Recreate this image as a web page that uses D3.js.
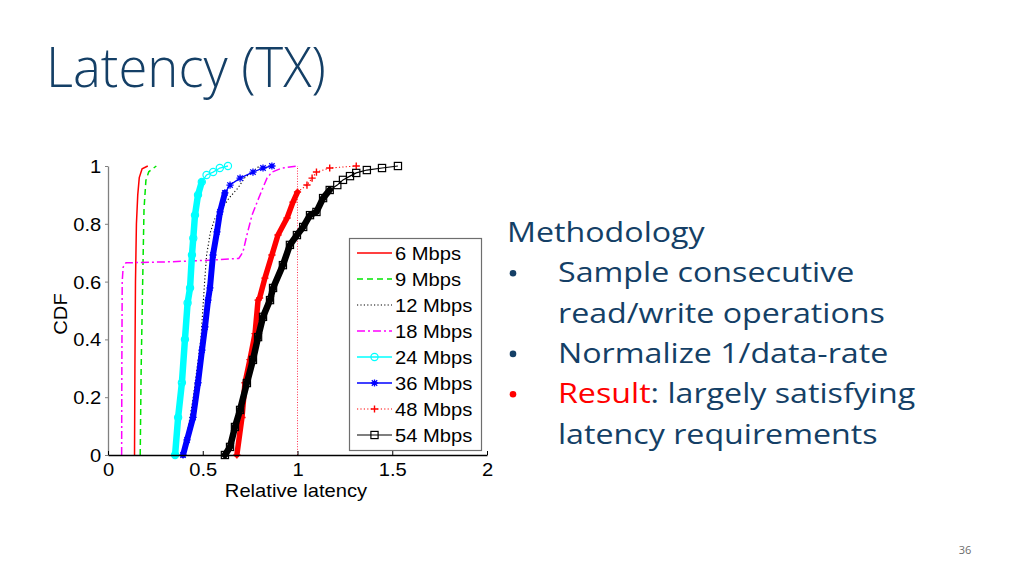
<!DOCTYPE html>
<html><head><meta charset="utf-8">
<script src="https://cdn.jsdelivr.net/npm/d3@7"></script>
<style>
html,body{margin:0;padding:0;background:#fff;}
svg{display:block;}
</style></head>
<body>
<svg id="c" width="1024" height="576"></svg>
<script>
// ---------- data ----------
const titleText = "Latency (TX)";
const xLabel = "Relative latency";
const yLabel = "CDF";
const xTicks = [0, 0.5, 1, 1.5, 2];
const yTicks = [0, 0.2, 0.4, 0.6, 0.8, 1];
const xTickLabels = ["0", "0.5", "1", "1.5", "2"];
const yTickLabels = ["0", "0.2", "0.4", "0.6", "0.8", "1"];
const seriesNames = ["6 Mbps", "9 Mbps", "12 Mbps", "18 Mbps", "24 Mbps", "36 Mbps", "48 Mbps", "54 Mbps"];

// [relative latency, CDF]
const cdf6 = [[0.14,0],[0.142,0.3],[0.145,0.6],[0.15,0.8],[0.157,0.9],[0.165,0.96],[0.18,0.99],[0.21,1]];
const cdf9 = [[0.17,0],[0.175,0.3],[0.183,0.6],[0.19,0.85],[0.2,0.95],[0.215,0.98],[0.255,1]];
const cdf12 = [[0.40,0],[0.45,0.2],[0.49,0.4],[0.51,0.6],[0.52,0.69],[0.54,0.77],[0.565,0.82],[0.64,0.89],[0.686,0.924],[0.72,0.958],[0.76,0.98],[0.80,1.0]];
const cdf18 = [[0.072,0],[0.073,0.3],[0.075,0.6],[0.08,0.65],[0.095,0.665],[0.3,0.668],[0.5,0.673],[0.69,0.68],[0.712,0.702],[0.733,0.761],[0.76,0.83],[0.802,0.9],[0.839,0.958],[0.865,0.979],[0.918,0.993],[1.0,1.0]];
const cdf24 = [[0.354,0],[0.37,0.13],[0.39,0.25],[0.406,0.40],[0.42,0.526],[0.433,0.578],[0.443,0.692],[0.45,0.75],[0.459,0.83],[0.475,0.90],[0.495,0.945],[0.52,0.969],[0.555,0.979],[0.59,0.993],[0.633,1.0]];
const cdf36 = [[0.396,0],[0.417,0.052],[0.449,0.13],[0.475,0.25],[0.496,0.363],[0.512,0.443],[0.528,0.536],[0.538,0.578],[0.554,0.692],[0.575,0.772],[0.591,0.841],[0.617,0.907],[0.644,0.934],[0.697,0.958],[0.765,0.979],[0.818,0.993],[0.865,1.0]];
const cdf48 = [[0.68,0],[0.707,0.13],[0.723,0.25],[0.749,0.33],[0.776,0.42],[0.792,0.536],[0.80,0.543],[0.828,0.612],[0.865,0.692],[0.897,0.761],[0.945,0.82],[0.976,0.875],[1.0,0.91],[1.05,0.934],[1.077,0.958],[1.10,0.979],[1.17,0.993],[1.31,1.0]];
const cdf54 = [[0.617,0],[0.644,0.028],[0.67,0.097],[0.697,0.156],[0.733,0.249],[0.765,0.329],[0.792,0.408],[0.818,0.478],[0.855,0.536],[0.871,0.578],[0.923,0.657],[0.96,0.727],[0.997,0.761],[1.03,0.789],[1.066,0.83],[1.10,0.841],[1.135,0.889],[1.17,0.917],[1.21,0.934],[1.24,0.952],[1.277,0.965],[1.31,0.976],[1.366,0.986],[1.446,0.993],[1.53,1.0]];
const refLineX = [1];

const bodyLines = [
  {bullet:false, parts:[{t:"Methodology"}]},
  {bullet:true, parts:[{t:"Sample consecutive"}]},
  {bullet:false, indent:true, parts:[{t:"read/write operations"}]},
  {bullet:true, parts:[{t:"Normalize 1/data-rate"}]},
  {bullet:true, red:true, parts:[{t:"Result", red:true},{t:": largely satisfying"}]},
  {bullet:false, indent:true, parts:[{t:"latency requirements"}]}
];
const pageNumber = "36";

// ---------- styles ----------
const seriesData = [cdf6, cdf9, cdf12, cdf18, cdf24, cdf36, cdf48, cdf54];
const styles = [
  {color:"#ff0000", dash:null, w:1.5, marker:null},
  {color:"#00e600", dash:"6,4", w:1.5, marker:null},
  {color:"#000000", dash:"1.2,2.2", w:1.1, marker:null},
  {color:"#ff00ff", dash:"8,3,2,3", w:1.5, marker:null},
  {color:"#00ffff", dash:null, w:1.3, marker:"circle", band:6.5, bandMax:0.95},
  {color:"#0000ff", dash:null, w:1.3, marker:"star", band:6, bandMax:0.93},
  {color:"#ff0000", dash:"1.2,2.2", w:1.1, marker:"plus", band:5.5, bandMax:0.93},
  {color:"#000000", dash:null, w:1.2, marker:"square", band:6.5, bandMax:0.93}
];

const svg = d3.select("#c");
const navy = "#143f66";
const chartFont = "'Liberation Sans', Arial, sans-serif";
const SX = 1.12;

// title
svg.append("text").attr("transform", "translate(46,87) scale(0.94,1)")
  .attr("font-family", "'Open Sans', 'Noto Sans', sans-serif").attr("font-weight", 300)
  .attr("font-size", 56).attr("fill", navy).text(titleText);

// scales
const x = d3.scaleLinear().domain([0, 2]).range([108, 487]);
const y = d3.scaleLinear().domain([0, 1]).range([455, 166]);

const plot = svg.append("g");

// reference dotted line at x = 1
plot.selectAll(".ref").data(refLineX).enter().append("line")
  .attr("x1", d => x(d)).attr("x2", d => x(d)).attr("y1", y(0)).attr("y2", y(1))
  .attr("stroke", "#ff3050").attr("stroke-width", 1).attr("stroke-dasharray", "1,1.6");

const line = d3.line().x(d => x(d[0])).y(d => y(d[1]));

seriesData.forEach((data, i) => {
  const st = styles[i];
  const g = plot.append("g");
  if (st.band) {
    g.append("path").attr("d", line(data.filter(d => d[1] <= st.bandMax)))
      .attr("fill", "none").attr("stroke", st.color).attr("stroke-width", st.band)
      .attr("stroke-linejoin", "round").attr("stroke-linecap", "round");
  }
  g.append("path").attr("d", line(data)).attr("fill", "none")
    .attr("stroke", st.color).attr("stroke-width", st.w)
    .attr("stroke-dasharray", st.dash);
  if (st.marker) {
    data.forEach(d => drawMarker(g, st.marker, x(d[0]), y(d[1]), st.color));
  }
});

function drawMarker(g, type, cx, cy, color) {
  const s = 3.6;
  if (type === "circle") {
    g.append("circle").attr("cx", cx).attr("cy", cy).attr("r", s)
      .attr("fill", "none").attr("stroke", color).attr("stroke-width", 1.2);
  } else if (type === "square") {
    g.append("rect").attr("x", cx - s).attr("y", cy - s).attr("width", 2*s).attr("height", 2*s)
      .attr("fill", "none").attr("stroke", color).attr("stroke-width", 1.2);
  } else if (type === "plus") {
    g.append("path").attr("d", `M${cx-s},${cy}H${cx+s}M${cx},${cy-s}V${cy+s}`)
      .attr("stroke", color).attr("stroke-width", 1.4);
  } else if (type === "star") {
    const k = s * 0.75;
    g.append("path").attr("d", `M${cx-s},${cy}H${cx+s}M${cx},${cy-s}V${cy+s}M${cx-k},${cy-k}L${cx+k},${cy+k}M${cx-k},${cy+k}L${cx+k},${cy-k}`)
      .attr("stroke", color).attr("stroke-width", 1.3);
  }
}

// axes
const yAxis = d3.axisLeft(y).tickValues(yTicks).tickFormat((d, i) => yTickLabels[i])
  .tickSize(3).tickSizeOuter(0).tickPadding(3);
const gy = svg.append("g").attr("transform", "translate(108,0)").call(yAxis);
gy.select(".domain").attr("stroke", "#808080").attr("stroke-width", 1.3);
gy.selectAll(".tick line").attr("stroke", "#808080");
gy.selectAll("text").attr("font-family", chartFont).attr("font-size", 18).attr("fill", "#000")
  .attr("transform", `scale(${SX},1)`).attr("dy", "0.36em");

const xAxis = d3.axisBottom(x).tickValues(xTicks).tickFormat((d, i) => xTickLabels[i])
  .tickSize(-4).tickSizeOuter(0).tickPadding(8);
const gx = svg.append("g").attr("transform", "translate(0,455)").call(xAxis);
gx.select(".domain").attr("stroke", "#000").attr("stroke-width", 1.3);
gx.selectAll(".tick line").attr("stroke", "#000");
gx.selectAll("text").attr("font-family", chartFont).attr("font-size", 18).attr("fill", "#000")
  .attr("transform", `scale(${SX},1)`);

// axis labels
svg.append("text").attr("transform", `translate(296,497) scale(${SX},1)`).attr("text-anchor", "middle")
  .attr("font-family", chartFont).attr("font-size", 18).text(xLabel);
svg.append("text").attr("transform", `translate(67,314) rotate(-90) scale(${SX},1)`).attr("text-anchor", "middle")
  .attr("font-family", chartFont).attr("font-size", 18).text(yLabel);

// legend
const lg = svg.append("g");
lg.append("rect").attr("x", 349.5).attr("y", 238.5).attr("width", 132).attr("height", 212)
  .attr("fill", "#fff").attr("stroke", "#6e6e6e").attr("stroke-width", 1.2);
seriesNames.forEach((name, i) => {
  const st = styles[i];
  const ly = 253 + i * 26;
  lg.append("line").attr("x1", 357).attr("x2", 392).attr("y1", ly).attr("y2", ly)
    .attr("stroke", st.color).attr("stroke-width", st.w).attr("stroke-dasharray", st.dash);
  if (st.marker) drawMarker(lg, st.marker, 374.5, ly, st.color);
  lg.append("text").attr("transform", `translate(395,${ly + 6.5}) scale(${SX},1)`)
    .attr("font-family", chartFont).attr("font-size", 18).text(name);
});

// body text
const bx = 507, bulletX = 513, indentX = 558, by0 = 242, lh = 40.3, BSX = 1.15;
bodyLines.forEach((ln, i) => {
  const yy = by0 + i * lh;
  if (ln.bullet) {
    svg.append("circle").attr("cx", bulletX).attr("cy", yy - 9).attr("r", 3.3)
      .attr("fill", ln.red ? "#ff0000" : navy);
  }
  const x0 = (ln.bullet || ln.indent) ? indentX : bx;
  const tx = svg.append("text").attr("transform", `translate(${x0},${yy}) scale(${BSX},1)`)
    .attr("font-family", "'Open Sans', 'Noto Sans', sans-serif").attr("font-size", 28).attr("fill", navy);
  ln.parts.forEach(p => tx.append("tspan").attr("fill", p.red ? "#ff0000" : navy).text(p.t));
});

svg.append("text").attr("x", 965).attr("y", 554).attr("text-anchor", "middle")
  .attr("font-family", "'Open Sans', sans-serif").attr("font-size", 11).attr("fill", "#6b6b6b").text(pageNumber);
</script>
</body></html>
